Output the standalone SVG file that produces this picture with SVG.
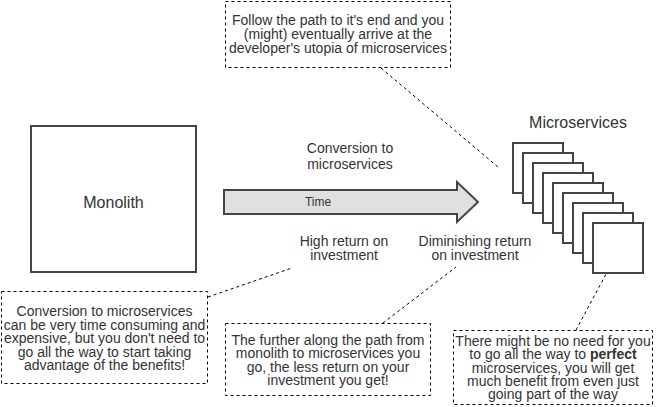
<svg xmlns="http://www.w3.org/2000/svg" width="657" height="407" viewBox="0 0 657 407">
<style>
text{font-family:"Liberation Sans",Arial,sans-serif;fill:#333;text-anchor:middle;font-size:14px}
.solid{fill:#fff;stroke:#444;stroke-width:2}
.note{fill:#fff;stroke:#000;stroke-width:1;stroke-dasharray:3 3}
.conn{fill:none;stroke:#000;stroke-width:1;stroke-dasharray:3 3}
</style>
<rect width="657" height="407" fill="#fff"/>
<g id="connectors">
<line class="conn" x1="381" y1="68" x2="498" y2="167"/>
<line class="conn" x1="208" y1="297" x2="292" y2="268"/>
<line class="conn" x1="383" y1="323" x2="456" y2="267"/>
<line class="conn" x1="576" y1="330" x2="606" y2="274"/>
</g>
<g id="monolith">
<rect class="solid" x="31" y="126" width="165" height="146"/>
<text x="113.5" y="208" style="font-size:16px">Monolith</text>
</g>
<g id="microservices">
<rect class="solid" x="513" y="143" width="50" height="50"/>
<rect class="solid" x="523" y="153" width="50" height="50"/>
<rect class="solid" x="533" y="163" width="50" height="50"/>
<rect class="solid" x="543" y="173" width="50" height="50"/>
<rect class="solid" x="553" y="183" width="50" height="50"/>
<rect class="solid" x="563" y="193" width="50" height="50"/>
<rect class="solid" x="573" y="203" width="50" height="50"/>
<rect class="solid" x="583" y="213" width="50" height="50"/>
<rect class="solid" x="593" y="223" width="50" height="50"/>
<text x="578" y="128" style="font-size:16px">Microservices</text>
</g>
<g id="time-arrow">
<polygon points="224,190 457,190 457,182 478,202 457,222 457,214 224,214" fill="#e0e0e0" stroke="#444" stroke-width="2"/>
<text x="318" y="206" style="font-size:12px">Time</text>
</g>
<g id="conversion-label">
<text x="350" y="153">Conversion to</text>
<text x="350" y="169">microservices</text>
</g>
<g id="high-return-label">
<text x="344" y="246">High return on</text>
<text x="344" y="260">investment</text>
</g>
<g id="diminishing-label">
<text x="475" y="246">Diminishing return</text>
<text x="475" y="260">on investment</text>
</g>
<g id="note-top">
<rect class="note" x="225.5" y="1.5" width="225" height="66"/>
<text x="338" y="25">Follow the path to it's end and you</text>
<text x="338" y="39">(might) eventually arrive at the</text>
<text x="338" y="53">developer's utopia of microservices</text>
</g>
<g id="note-left">
<rect class="note" x="1.5" y="291.5" width="206" height="92"/>
<text x="104.5" y="316">Conversion to microservices</text>
<text x="104.5" y="330">can be very time consuming and</text>
<text x="104.5" y="343">expensive, but you don't need to</text>
<text x="104.5" y="357">go all the way to start taking</text>
<text x="104.5" y="370">advantage of the benefits!</text>
</g>
<g id="note-middle">
<rect class="note" x="225.5" y="323.5" width="205" height="72"/>
<text x="328" y="345">The further along the path from</text>
<text x="328" y="358">monolith to microservices you</text>
<text x="328" y="372">go, the less return on your</text>
<text x="328" y="385">investment you get!</text>
</g>
<g id="note-right">
<rect class="note" x="453.5" y="330.5" width="199" height="74"/>
<text x="553" y="346">There might be no need for you</text>
<text x="553" y="359">to go all the way to <tspan font-weight="bold">perfect</tspan></text>
<text x="553" y="373">microservices, you will get</text>
<text x="553" y="386">much benefit from even just</text>
<text x="553" y="399">going part of the way</text>
</g>
</svg>
